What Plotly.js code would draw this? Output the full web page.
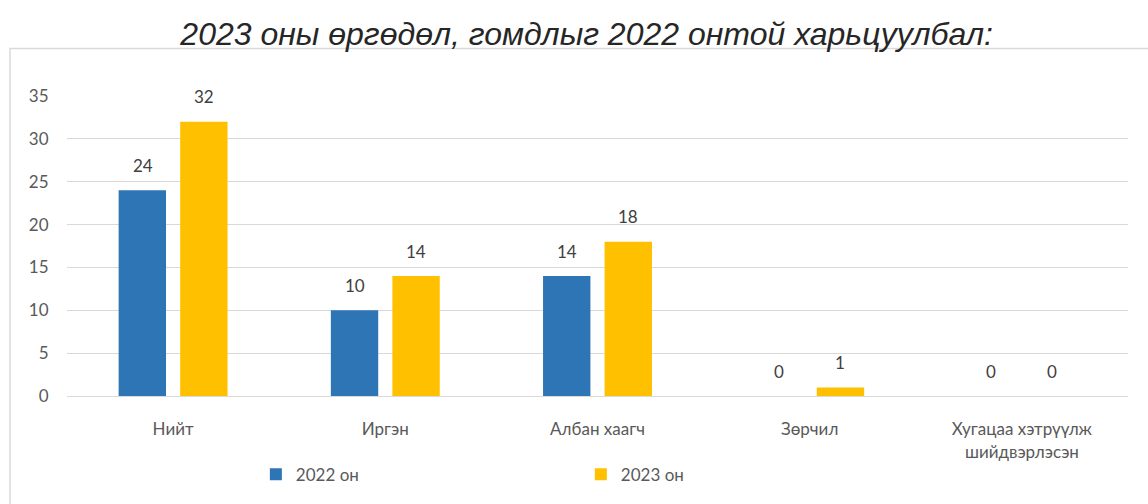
<!DOCTYPE html>
<html>
<head>
<meta charset="utf-8">
<script src="https://cdn.plot.ly/plotly-3.0.1.min.js"></script>
<style>html,body{margin:0;padding:0;background:#fff;}#chart{width:1148px;height:504px;}</style>
</head>
<body>
<div id="chart"></div>
<script>
const categories = ["Нийт", "Иргэн", "Албан хаагч", "Зөрчил", "Хугацаа хэтрүүлж<br>шийдвэрлэсэн"];
const seriesNames = ["2022 он", "2023 он"];
const values2022 = [24, 10, 14, 0, 0];
const values2023 = [32, 14, 18, 1, 0];
const yTicks = [0, 5, 10, 15, 20, 25, 30, 35];
const titleText = "2023 оны өргөдөл, гомдлыг 2022 онтой харьцуулбал:";

const colors = ["#2E75B6", "#FFC000"];
const series = [values2022, values2023];
const font = "Lato, 'Open Sans', sans-serif";

const traces = series.map((vals, i) => ({
  type: "bar",
  name: seriesNames[i],
  x: categories,
  y: vals,
  marker: {color: colors[i]},
  hoverinfo: "none"
}));

const offsets = [-30.5, 30.5];
const annotations = [];
series.forEach((vals, i) => {
  vals.forEach((v, j) => {
    annotations.push({
      x: categories[j], y: v, xref: "x", yref: "y",
      text: String(v), showarrow: false,
      xshift: offsets[i], yshift: 25, yanchor: "middle",
      font: {family: font, size: 17, color: "#404040"}
    });
  });
});

const layout = {
  width: 1148, height: 504,
  margin: {l: 67, r: 20, t: 96, b: 104},
  paper_bgcolor: "#fff", plot_bgcolor: "#fff",
  title: {text: titleText, x: 0.511, xanchor: "center", y: 0.932, yanchor: "middle",
    font: {family: "'Liberation Sans', Arial, sans-serif", size: 32, color: "#262626", style: "italic"}},
  barmode: "group", bargap: 0.42, bargroupgap: 0.23,
  showlegend: true,
  legend: {orientation: "h", x: 0.178, xanchor: "left", y: -0.262, yanchor: "middle",
    entrywidth: 280, entrywidthmode: "pixels", itemwidth: 30,
    font: {family: font, size: 17, color: "#595959"}},
  xaxis: {tickfont: {family: font, size: 17, color: "#595959"}, ticks: "outside", ticklen: 18, tickcolor: "rgba(0,0,0,0)",
    showline: false, showgrid: false, fixedrange: true},
  yaxis: {range: [0, 35], tickvals: yTicks, tickfont: {family: font, size: 17, color: "#595959"},
    gridcolor: "#d9d9d9", zeroline: true, zerolinecolor: "#d9d9d9", zerolinewidth: 1, ticks: "outside", ticklen: 14, tickcolor: "rgba(0,0,0,0)", fixedrange: true},
  annotations: annotations,
  shapes: [{type: "rect", xref: "paper", yref: "paper", x0: -0.0537, x1: 1.1, y0: -0.5, y1: 1.158,
    line: {color: "#d9d9d9", width: 1.5}, fillcolor: "rgba(0,0,0,0)", layer: "below"}]
};

Plotly.newPlot("chart", traces, layout, {displayModeBar: false, staticPlot: true});
</script>
</body>
</html>
